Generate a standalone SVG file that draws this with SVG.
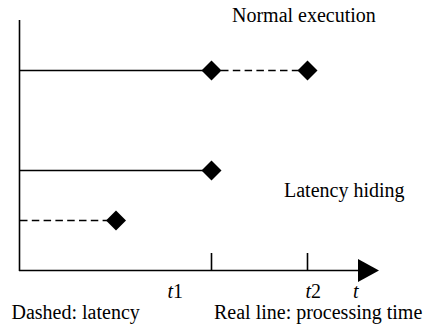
<svg xmlns="http://www.w3.org/2000/svg" width="443" height="327" viewBox="0 0 443 327">
<defs>
<style>
.ln{stroke:#000;stroke-width:1.6;fill:none}
.ds{stroke:#000;stroke-width:1.6;fill:none;stroke-dasharray:7.5 4.3}
.tx{font-size:20px;fill:#000}
.it{font-style:italic}
</style>
<path id="dia" d="M0,-10 L10,0 L0,10 L-10,0 Z" fill="#000"/>
</defs>
<rect width="443" height="327" fill="#fff"/>
<g id="axes">
<line class="ln" x1="19.5" y1="20" x2="19.5" y2="271"/>
<line class="ln" x1="19" y1="270.5" x2="360" y2="270.5"/>
<path d="M358,259 L379,270.5 L358,282 Z" fill="#000"/>
<line class="ln" x1="211.5" y1="253" x2="211.5" y2="270"/>
<line class="ln" x1="307.5" y1="253" x2="307.5" y2="270"/>
</g>
<g id="connectors">
<line class="ln" x1="20" y1="70.5" x2="205" y2="70.5"/>
<line class="ds" x1="221" y1="70.5" x2="300" y2="70.5"/>
<line class="ln" x1="20" y1="170.5" x2="205" y2="170.5"/>
<line class="ds" x1="20" y1="220.5" x2="109" y2="220.5"/>
</g>
<g id="n1"><use href="#dia" x="211.5" y="70.5"/></g>
<g id="n2"><use href="#dia" x="307.5" y="70.5"/></g>
<g id="n3"><use href="#dia" x="211.5" y="170.5"/></g>
<g id="n4"><use href="#dia" x="116" y="220.5"/></g>
<g id="labels" font-family="'Liberation Serif', 'Times New Roman', 'DejaVu Serif', serif">
<text class="tx" x="232" y="22">Normal execution</text>
<text class="tx" x="284" y="197">Latency hiding</text>
<text class="tx" x="167.5" y="298"><tspan class="it">t</tspan>1</text>
<text class="tx" x="305.5" y="298"><tspan class="it">t</tspan>2</text>
<text class="tx it" x="353" y="298">t</text>
<text class="tx" x="11.5" y="319">Dashed: latency</text>
<text class="tx" x="214" y="319">Real line: processing time</text>
</g>
</svg>
